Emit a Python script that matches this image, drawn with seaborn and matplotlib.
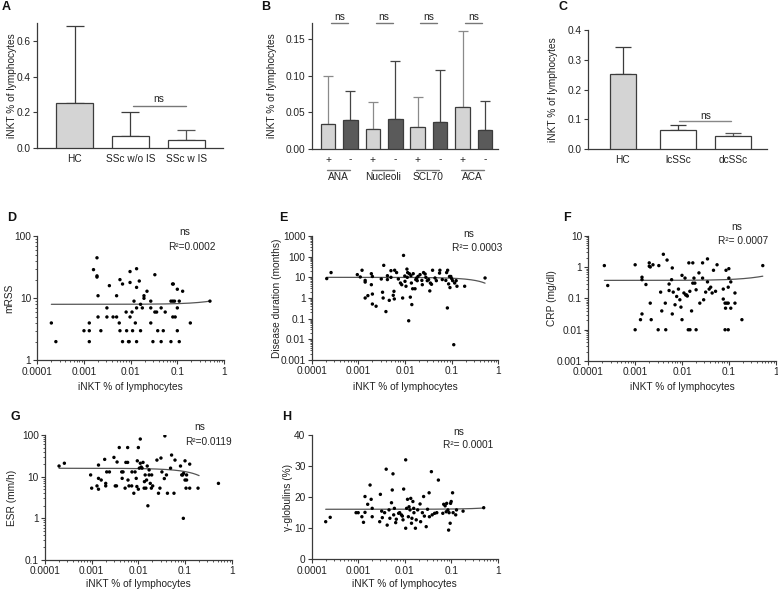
import numpy as np
import pandas as pd
import matplotlib
matplotlib.use("Agg")
import matplotlib.pyplot as plt
import seaborn as sns
from matplotlib.ticker import FuncFormatter, LogLocator, NullFormatter, FixedLocator

# ---------------- data ----------------
a_groups = ["HC", "SSc w/o IS", "SSc w IS"]
a_mean = [0.252, 0.065, 0.045]
a_upper = [0.683, 0.200, 0.102]

b_markers = ["ANA", "Nucleoli", "SCL70", "ACA"]
b_signs = ["+", "-", "+", "-", "+", "-", "+", "-"]
b_mean = [0.034, 0.040, 0.027, 0.041, 0.030, 0.037, 0.057, 0.026]
b_upper = [0.100, 0.079, 0.064, 0.120, 0.071, 0.108, 0.161, 0.065]

c_groups = ["HC", "lcSSc", "dcSSc"]
c_mean = [0.252, 0.063, 0.043]
c_upper = [0.343, 0.080, 0.055]

d_x = [0.0002, 0.00025, 0.001, 0.0013, 0.0013, 0.0013, 0.0016, 0.0019, 0.0019, 0.0019,
       0.002, 0.002, 0.0023, 0.0031, 0.0031, 0.0035, 0.0042, 0.005, 0.005, 0.0057,
       0.0059, 0.0067, 0.0059, 0.0067, 0.008, 0.0082, 0.009, 0.0093, 0.0097, 0.0097,
       0.0097, 0.0107, 0.011, 0.0118, 0.0134, 0.0134, 0.0126, 0.0134, 0.0134, 0.0153,
       0.0163, 0.0163, 0.0178, 0.0193, 0.0193, 0.0224, 0.027, 0.027, 0.027, 0.030,
       0.033, 0.033, 0.036, 0.038, 0.045, 0.045, 0.05, 0.055, 0.073, 0.073,
       0.079, 0.082, 0.08, 0.087, 0.08, 0.09, 0.1, 0.1, 0.1, 0.11,
       0.11, 0.13, 0.19, 0.5]
d_y = [4, 2, 3, 3, 4, 2, 29, 45, 23, 22,
       11, 5, 3, 5, 7, 16, 5, 11, 5, 4,
       20, 17, 3, 2, 6, 3, 2, 2, 27, 18,
       5, 6, 3, 9, 30, 15, 4, 2, 7, 19,
       3, 8, 7, 11, 10, 13, 9, 7, 4, 2,
       24, 6, 6, 3, 7, 2, 3, 6, 2, 9,
       17, 17, 9, 9, 5, 5, 14, 7, 3, 9,
       2, 13, 4, 9]

e_x = [0.00021, 0.00026, 0.00095, 0.0011, 0.0012, 0.0014, 0.0014, 0.0014, 0.0016, 0.0019,
       0.0019, 0.002, 0.002, 0.002, 0.0024, 0.0031, 0.0033, 0.0034, 0.0035, 0.0039,
       0.0042, 0.0042, 0.0046, 0.005, 0.005, 0.0056, 0.0058, 0.0059, 0.006, 0.0066,
       0.0072, 0.008, 0.0085, 0.0089, 0.0093, 0.0099, 0.01, 0.0105, 0.011, 0.0114,
       0.0112, 0.012, 0.0124, 0.013, 0.0134, 0.0137, 0.014, 0.0146, 0.015, 0.0164,
       0.017, 0.0178, 0.0183, 0.019, 0.021, 0.023, 0.0235, 0.025, 0.027, 0.028,
       0.03, 0.032, 0.034, 0.035, 0.037, 0.039, 0.044, 0.047, 0.055, 0.056,
       0.063, 0.075, 0.078, 0.082, 0.081, 0.086, 0.09, 0.092, 0.096, 0.1,
       0.105, 0.111, 0.116, 0.125, 0.13, 0.19, 0.52]
e_y = [8.7, 17, 13.5, 10.4, 22, 7.1, 5.9, 1.0, 1.3, 15,
       4.4, 11, 1.55, 0.51, 0.40, 8.3, 1.9, 1.0, 38, 0.22,
       12, 7.8, 0.77, 21, 10, 1.35, 2.1, 0.9, 22, 17,
       8.3, 5.3, 4.4, 1.0, 115, 11.6, 6.4, 3.7, 25, 17,
       10, 0.079, 15, 1.1, 12, 5.3, 0.48, 2.8, 15, 2.8,
       7.8, 9.3, 6.9, 11, 13.5, 7.1, 4.4, 17, 14.5, 10,
       6.9, 7.8, 2.2, 5.3, 4.6, 22, 9.3, 6.9, 16, 22,
       7.8, 7.1, 17, 22, 0.33, 4.8, 11, 3.2, 11, 8.7,
       6.9, 0.0055, 5.3, 6.9, 3.7, 3.7, 9.3]

f_x = [0.00022, 0.00026, 0.001, 0.001, 0.0013, 0.0014, 0.0014, 0.0014, 0.0017, 0.002,
       0.002, 0.0021, 0.0021, 0.0022, 0.0024, 0.0031, 0.0032, 0.0035, 0.0037, 0.004,
       0.0044, 0.0045, 0.0048, 0.0053, 0.0053, 0.006, 0.0062, 0.0062, 0.0065, 0.0071,
       0.0077, 0.0084, 0.009, 0.0095, 0.01, 0.01, 0.011, 0.012, 0.0116, 0.0125,
       0.013, 0.0136, 0.0148, 0.014, 0.017, 0.0147, 0.017, 0.0188, 0.018, 0.016,
       0.02, 0.02, 0.023, 0.024, 0.0275, 0.0275, 0.029, 0.032, 0.035, 0.035,
       0.038, 0.041, 0.044, 0.047, 0.052, 0.056, 0.076, 0.076, 0.083, 0.09,
       0.097, 0.087, 0.085, 0.083, 0.097, 0.097, 0.1, 0.1, 0.11, 0.11,
       0.135, 0.135, 0.19, 0.53]
f_y = [1.13, 0.26, 1.2, 0.01, 0.021, 0.032, 0.48, 0.40, 0.28, 1.38,
       1.08, 1.02, 0.071, 0.021, 1.2, 0.01, 1.13, 0.16, 0.04, 2.6,
       0.071, 0.01, 1.7, 0.18, 0.29, 0.40, 0.95, 0.032, 0.16, 0.063,
       0.116, 0.2, 0.091, 0.053, 0.021, 0.55, 0.15, 0.13, 0.45, 0.13,
       0.12, 0.01, 0.01, 1.38, 1.38, 0.17, 0.31, 0.31, 0.45, 0.04,
       0.01, 0.19, 0.66, 0.071, 1.38, 0.45, 0.091, 0.16, 1.85, 0.34,
       0.2, 0.23, 0.15, 0.8, 0.17, 1.2, 0.2, 0.096, 0.071, 0.071,
       0.071, 0.8, 0.049, 0.01, 0.01, 0.23, 0.9, 0.45, 0.34, 0.049,
       0.15, 0.071, 0.021, 1.13]

g_x = [0.0002, 0.00026, 0.00095, 0.001, 0.0013, 0.0014, 0.0014, 0.0014, 0.0016, 0.0019,
       0.002, 0.002, 0.0021, 0.0024, 0.003, 0.0032, 0.0034, 0.0035, 0.0039, 0.0044,
       0.0045, 0.0047, 0.0052, 0.0054, 0.0059, 0.0059, 0.006, 0.0063, 0.0072, 0.0073,
       0.008, 0.0085, 0.009, 0.0093, 0.0095, 0.01, 0.01, 0.0105, 0.011, 0.011,
       0.0115, 0.012, 0.0126, 0.0133, 0.0135, 0.014, 0.0145, 0.015, 0.0155, 0.016,
       0.017, 0.017, 0.018, 0.019, 0.0193, 0.0203, 0.025, 0.027, 0.029, 0.0305,
       0.032, 0.036, 0.037, 0.04, 0.042, 0.049, 0.0515, 0.058, 0.061, 0.08,
       0.085, 0.089, 0.093, 0.092, 0.1, 0.105, 0.1, 0.108, 0.108, 0.126,
       0.126, 0.19, 0.52]
g_y = [18, 21, 11, 5.3, 6, 5, 19, 9.1, 8.3, 26,
       6, 6.9, 13, 13, 29, 6, 6, 22.5, 50, 13,
       9.1, 13, 5.3, 22, 22, 50, 8.3, 6, 6, 13,
       4, 13, 9.1, 5.8, 24, 50, 5, 16, 21, 80,
       17, 16, 22, 5.3, 7.6, 11, 5.3, 8.3, 18, 2,
       14.5, 11, 6.9, 5.3, 11, 6, 25, 4, 5.3, 28,
       13, 9, 95, 11, 4, 16, 33, 4, 25, 18,
       11, 11, 12, 1, 24, 5.3, 8.3, 8.3, 11, 20,
       5.3, 5.3, 6.9]

h_x = [0.0002, 0.00025, 0.0009, 0.001, 0.0012, 0.0013, 0.0014, 0.0014, 0.0016, 0.0018,
       0.0019, 0.002, 0.002, 0.0029, 0.003, 0.0032, 0.0033, 0.0037, 0.004, 0.0042,
       0.0046, 0.0048, 0.0052, 0.0054, 0.0056, 0.0058, 0.006, 0.0064, 0.0066, 0.0074,
       0.0078, 0.0085, 0.0089, 0.0092, 0.0095, 0.0105, 0.0105, 0.011, 0.0115, 0.012,
       0.0124, 0.013, 0.0135, 0.014, 0.0143, 0.015, 0.0156, 0.0158, 0.017, 0.0177,
       0.019, 0.0214, 0.022, 0.024, 0.0255, 0.0265, 0.029, 0.031, 0.0335, 0.034,
       0.0375, 0.039, 0.044, 0.049, 0.053, 0.066, 0.069, 0.074, 0.078, 0.08,
       0.085, 0.088, 0.09, 0.095, 0.097, 0.1, 0.107, 0.11, 0.125, 0.13,
       0.18, 0.5]
h_y = [12.1, 13.5, 15.0, 15.0, 13.7, 11.9, 20.2, 15.1, 17.7, 23.9,
       19.3, 16.4, 13.7, 12.1, 20.9, 15.5, 13.4, 15.0, 29.0, 11.0,
       15.9, 13.2, 18.2, 22.3, 27.5, 14.3, 16.4, 11.8, 12.9, 14.8,
       15.0, 14.3, 13.9, 12.7, 22.6, 32.0, 10.0, 16.4, 19.3, 13.7,
       16.9, 15.9, 19.6, 11.6, 13.2, 18.6, 16.4, 15.0, 10.0, 12.7,
       15.9, 17.8, 12.1, 15.0, 20.2, 13.9, 10.5, 16.1, 21.4, 13.7,
       28.2, 14.3, 14.8, 15.0, 25.5, 14.8, 17.7, 17.2, 15.3, 18.0,
       15.9, 9.4, 15.0, 11.6, 18.0, 18.6, 21.4, 15.0, 14.3, 15.9,
       15.5, 16.6]

# linear fits (intercept, slope) and x-range of the fitted line
d_fit = (8.0, 2.0, 0.0002, 0.5)
e_fit = (10.0, -9.2, 0.00021, 0.52)
f_fit = (0.38, 0.26, 0.00022, 0.53)
g_fit = (15.9, -26.5, 0.0002, 0.2)
h_fit = (16.1, 0.8, 0.0002, 0.5)
r2_labels = ["R²=0.0002", "R²= 0.0003", "R²= 0.0007", "R²=0.0119", "R²= 0.0001"]

# ---------------- style ----------------
sns.set_theme(style="ticks")
plt.rcParams["font.family"] = ["Liberation Sans", "DejaVu Sans"]
FS = 7.3
INK = "#222222"
SPINE = "#3a3a3a"
plt.rcParams.update({
    "axes.edgecolor": SPINE, "axes.linewidth": 0.9,
    "xtick.color": SPINE, "ytick.color": SPINE,
    "xtick.labelcolor": INK, "ytick.labelcolor": INK,
    "xtick.labelsize": FS, "ytick.labelsize": FS,
    "xtick.major.size": 3, "ytick.major.size": 3,
    "xtick.minor.size": 1.6, "ytick.minor.size": 1.6,
    "xtick.major.width": 0.8, "ytick.major.width": 0.8,
    "xtick.minor.width": 0.6, "ytick.minor.width": 0.6,
    "xtick.major.pad": 1.5, "ytick.major.pad": 1.5,
    "axes.labelsize": FS, "axes.labelcolor": INK,
})

W, H = 778, 592
fig = plt.figure(figsize=(W / 100, H / 100), dpi=100)


def add_ax(l, r, t, b):
    return fig.add_axes([l / W, 1 - b / H, (r - l) / W, (b - t) / H])


def label_ylabel(ax, text, xpix, left, right):
    ax.set_ylabel(text, fontsize=FS, color=INK)
    ax.yaxis.label.set_va("center")
    ax.yaxis.set_label_coords((xpix - left) / (right - left), 0.5)


def letter(text, x, y):
    fig.text(x / W, 1 - y / H, text, fontsize=9, fontweight="bold", color="#111111",
             ha="center", va="center")


EDGE = "#3c3c3c"
LIGHT = "#d4d4d4"
DARK = "#5a5a5a"
fmt = FuncFormatter(lambda v, _: f"{v:g}")


def bar_panel(ax, ids, means, uppers, colors, ecolors, capsize, width):
    df = pd.DataFrame({"cat": ids, "val": means})
    sns.barplot(data=df, x="cat", y="val", hue="cat", palette=dict(zip(ids, colors)),
                legend=False, width=width, edgecolor=EDGE, linewidth=0.9,
                errorbar=None, ax=ax, zorder=3)
    for p, m, u, ec in zip(range(len(ids)), means, uppers, ecolors):
        ax.errorbar([p], [m], yerr=[[0], [u - m]], fmt="none", ecolor=ec,
                    elinewidth=0.9, capsize=capsize, capthick=0.9, zorder=2)
    sns.despine(ax=ax)
    ax.tick_params(axis="x", length=0, pad=4)
    ax.set_xlabel("")


# ---- A ----
axA = add_ax(37.3, 223, 23, 148)
bar_panel(axA, a_groups, a_mean, a_upper, [LIGHT, "white", "white"],
          [EDGE, EDGE, "#555555"], 6.5, 0.66)
axA.set_xlim(-0.67, 2.66)
axA.set_ylim(0, 0.7)
axA.yaxis.set_major_locator(FixedLocator([0.0, 0.2, 0.4, 0.6]))
axA.yaxis.set_major_formatter(FuncFormatter(lambda v, _: f"{v:.1f}"))
label_ylabel(axA, "iNKT % of lymphocytes", 11.7, 37.3, 223)
axA.plot([1.04, 1.99], [0.237, 0.237], color="#777777", lw=1.0)
axA.text(1.5, 0.274, "ns", ha="center", va="center", fontsize=FS, color=INK)

# ---- B ----
axB = add_ax(311.7, 498, 23, 149)
b_ids = [f"{m}{s}" for m in b_markers for s in ["+", "-"]]
bar_panel(axB, b_ids, b_mean, b_upper, [LIGHT if s == "+" else DARK for s in b_signs],
          ["#8a8a8a" if s == "+" else "#444444" for s in b_signs], 3.5, 0.65)
axB.set_xticks(range(len(b_ids)))
axB.set_xticklabels(b_signs)
axB.set_xlim(-0.73, 7.58)
axB.set_ylim(0, 0.1717)
axB.yaxis.set_major_locator(FixedLocator([0.0, 0.05, 0.10, 0.15]))
axB.yaxis.set_major_formatter(FuncFormatter(lambda v, _: f"{v:.2f}"))
label_ylabel(axB, "iNKT % of lymphocytes", 271.7, 311.7, 498)
tB = axB.get_xaxis_transform()
for i, name in enumerate(b_markers):
    c = 2 * i + 0.5
    axB.plot([c - 0.38, c + 0.38], [0.172, 0.172], color="#777777", lw=1.0, clip_on=False)
    axB.text(c, 0.1805, "ns", ha="center", va="center", fontsize=FS, color=INK)
    axB.plot([c - 0.56, c + 0.46], [-0.164, -0.164], color="#777777", lw=1.0,
             transform=tB, clip_on=False)
    axB.text(c - 0.05, -0.22, name, ha="center", va="center", fontsize=FS, color=INK,
             transform=tB)

# ---- C ----
axC = add_ax(588.3, 766.7, 30, 149)
bar_panel(axC, c_groups, c_mean, c_upper, [LIGHT, "white", "white"],
          [EDGE, EDGE, "#555555"], 6.0, 0.65)
hc = axC.patches[0]
hc.set_x(0 - 0.235)
hc.set_width(0.47)
axC.set_xlim(-0.62, 2.61)
axC.set_ylim(0, 0.4)
axC.yaxis.set_major_locator(FixedLocator([0.0, 0.1, 0.2, 0.3, 0.4]))
axC.yaxis.set_major_formatter(FuncFormatter(lambda v, _: f"{v:.1f}"))
label_ylabel(axC, "iNKT % of lymphocytes", 552.7, 588.3, 766.7)
axC.plot([1.02, 1.97], [0.095, 0.095], color="#888888", lw=1.0)
axC.text(1.5, 0.112, "ns", ha="center", va="center", fontsize=FS, color=INK)


# ---- scatter panels ----
def scatter_panel(box, x, y, fit, ylog, ylim, yticks, ylabel, ylab_x, ns_xy, r2_xy, r2,
                  xlab_dy):
    l, r, t, b = box
    ax = add_ax(l, r, t, b)
    df = pd.DataFrame({"x": x, "y": y})
    b0, b1, xa, xb = fit
    xf = np.logspace(np.log10(xa), np.log10(xb), 300)
    fit_df = pd.DataFrame({"x": xf, "y": b0 + b1 * xf})
    sns.lineplot(data=fit_df, x="x", y="y", color="#555555", lw=0.9, ax=ax, zorder=2)
    sns.scatterplot(data=df, x="x", y="y", s=6, color="black", edgecolor="none",
                    linewidth=0, ax=ax, zorder=3)
    ax.set_xscale("log")
    ax.set_xlim(1e-4, 1)
    ax.xaxis.set_major_locator(FixedLocator([1e-4, 1e-3, 1e-2, 1e-1, 1]))
    ax.xaxis.set_minor_locator(LogLocator(base=10, subs=np.arange(2, 10), numticks=20))
    ax.xaxis.set_major_formatter(fmt)
    ax.xaxis.set_minor_formatter(NullFormatter())
    if ylog:
        ax.set_yscale("log")
        ax.yaxis.set_minor_locator(LogLocator(base=10, subs=np.arange(2, 10), numticks=20))
        ax.yaxis.set_minor_formatter(NullFormatter())
    ax.set_ylim(*ylim)
    ax.yaxis.set_major_locator(FixedLocator(yticks))
    ax.yaxis.set_major_formatter(fmt)
    sns.despine(ax=ax)
    ax.set_xlabel("iNKT % of lymphocytes", fontsize=FS, color=INK)
    ax.xaxis.label.set_va("center")
    ax.xaxis.set_label_coords(0.5, -xlab_dy / (b - t))
    label_ylabel(ax, ylabel, ylab_x, l, r)
    ax.text((ns_xy[0] - l) / (r - l), (b - ns_xy[1]) / (b - t), "ns", transform=ax.transAxes,
            ha="center", va="center", fontsize=FS, color=INK)
    ax.text((r2_xy[0] - l) / (r - l), (b - r2_xy[1]) / (b - t), r2, transform=ax.transAxes,
            ha="center", va="center", fontsize=FS, color=INK)
    return ax


scatter_panel((37.3, 224, 236.3, 360.3), d_x, d_y, d_fit, True, (1, 100), [1, 10, 100],
              "mRSS", 9.5, (185, 231.7), (191.7, 246.7), r2_labels[0], 27)
scatter_panel((311.7, 498.3, 236, 360), e_x, e_y, e_fit, True, (0.001, 1000),
              [0.001, 0.01, 0.1, 1, 10, 100, 1000], "Disease duration (months)", 276.7,
              (468.3, 234), (476.7, 248.3), r2_labels[1], 27)
scatter_panel((588.3, 775.7, 236, 361), f_x, f_y, f_fit, True, (0.001, 10),
              [0.001, 0.01, 0.1, 1, 10], "CRP (mg/dl)", 551.7,
              (736.7, 226.7), (743.3, 241), r2_labels[2], 26)
scatter_panel((45, 231.7, 435, 560), g_x, g_y, g_fit, True, (0.1, 100),
              [0.1, 1, 10, 100], "ESR (mm/h)", 11.7,
              (200, 426.7), (208.3, 441.7), r2_labels[3], 24)
scatter_panel((311.7, 497.7, 435, 559.3), h_x, h_y, h_fit, False, (0, 40),
              [0, 10, 20, 30, 40], "γ-globulins (%)", 288,
              (458.3, 431.7), (468.3, 445), r2_labels[4], 24.5)

for t_, x_, y_ in [("A", 6, 7), ("B", 266, 7), ("C", 563, 7), ("D", 11.7, 218.3),
                   ("E", 283.3, 218.3), ("F", 566.7, 218.3), ("G", 15, 417.3),
                   ("H", 286.7, 417.3)]:
    letter(t_, x_, y_)

fig.savefig("out.png", dpi=100)
